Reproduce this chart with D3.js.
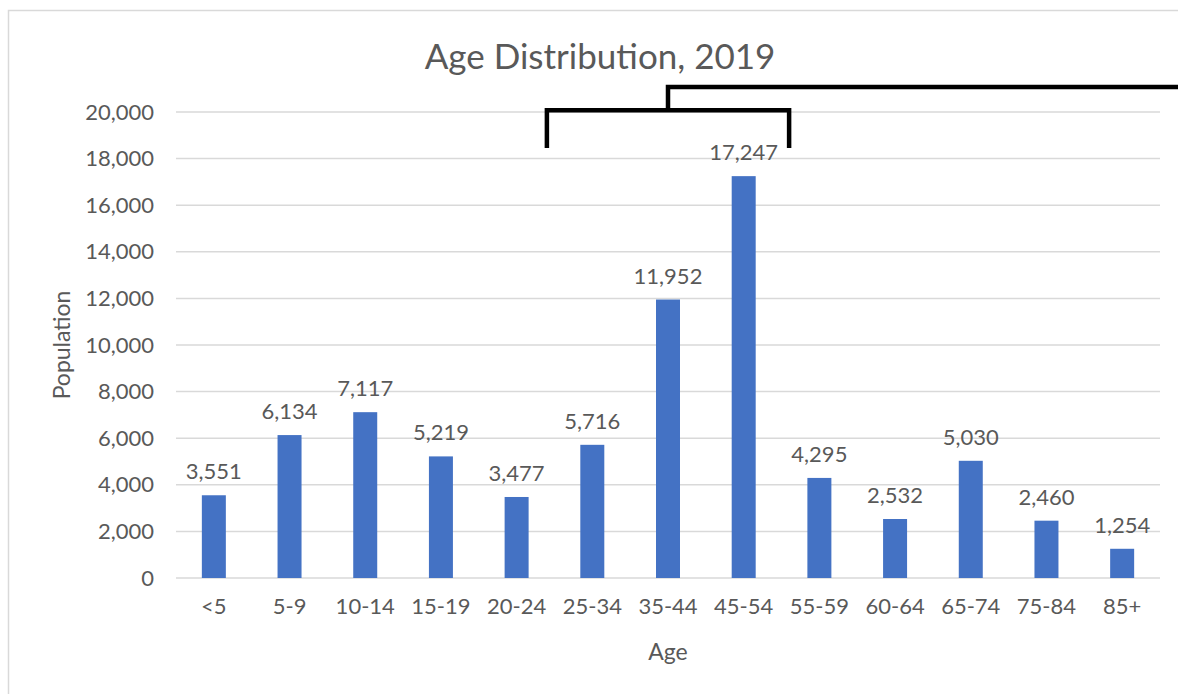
<!DOCTYPE html>
<html>
<head>
<meta charset="utf-8">
<script src="https://cdn.jsdelivr.net/npm/d3@7"></script>
<style>
  body { margin: 0; background: #fff; }
  svg text { font-family: Lato, "Open Sans", sans-serif; fill: #595959; }
</style>
</head>
<body>
<svg id="chart"></svg>
<script>
// chart data
const ageGroups = ["<5", "5-9", "10-14", "15-19", "20-24", "25-34", "35-44", "45-54", "55-59", "60-64", "65-74", "75-84", "85+"];
const population = [3551, 6134, 7117, 5219, 3477, 5716, 11952, 17247, 4295, 2532, 5030, 2460, 1254];
const yTicks = [0, 2000, 4000, 6000, 8000, 10000, 12000, 14000, 16000, 18000, 20000];

const W = 1178, H = 694;
const margin = {top: 112, right: 18, bottom: 116, left: 176};

const svg = d3.select("#chart").attr("width", W).attr("height", H);

// chart border
svg.append("rect")
  .attr("x", 8.5).attr("y", 10.5)
  .attr("width", W + 20).attr("height", H + 20)
  .attr("fill", "none")
  .attr("stroke", "#d9d9d9")
  .attr("stroke-width", 1.5);

const x = d3.scaleBand()
  .domain(ageGroups)
  .range([margin.left, W - margin.right])
  .paddingInner(0.683)
  .paddingOuter(0.3415);

const y = d3.scaleLinear()
  .domain([0, 20000])
  .range([H - margin.bottom, margin.top]);

const fmt = d3.format(",");

// gridlines
svg.append("g")
  .selectAll("line")
  .data(yTicks)
  .enter().append("line")
    .attr("x1", margin.left)
    .attr("x2", W - margin.right)
    .attr("y1", d => y(d))
    .attr("y2", d => y(d))
    .attr("stroke", "#d9d9d9")
    .attr("stroke-width", 1.5);

// y axis labels
const yAxis = svg.append("g")
  .attr("transform", `translate(${margin.left - 22},0)`)
  .call(d3.axisLeft(y).tickValues(yTicks).tickFormat(fmt).tickSize(0).tickPadding(0));
yAxis.select(".domain").remove();
yAxis.selectAll("text")
  .attr("font-size", "22px")
  .attr("fill", "#595959")
  .attr("font-family", "Lato, sans-serif");

// x axis labels
const xAxis = svg.append("g")
  .attr("transform", `translate(0,${H - margin.bottom})`)
  .call(d3.axisBottom(x).tickSize(0).tickPadding(20));
xAxis.select(".domain").remove();
xAxis.selectAll("text")
  .attr("font-size", "22px")
  .attr("fill", "#595959")
  .attr("font-family", "Lato, sans-serif");

// bars
svg.selectAll("rect.bar")
  .data(population)
  .enter().append("rect")
    .attr("class", "bar")
    .attr("x", (d, i) => x(ageGroups[i]))
    .attr("y", d => y(d))
    .attr("width", x.bandwidth())
    .attr("height", d => y(0) - y(d))
    .attr("fill", "#4472c4");

// value labels
svg.selectAll("text.val")
  .data(population)
  .enter().append("text")
    .attr("class", "val")
    .attr("x", (d, i) => x(ageGroups[i]) + x.bandwidth() / 2)
    .attr("y", d => y(d) - 16)
    .attr("text-anchor", "middle")
    .attr("font-size", "22px")
    .text(d => fmt(d));

// title
svg.append("text")
  .attr("x", 600)
  .attr("y", 69)
  .attr("text-anchor", "middle")
  .attr("font-size", "35px")
  .text("Age Distribution, 2019");

// axis titles
svg.append("text")
  .attr("x", x(ageGroups[6]) + x.bandwidth() / 2)
  .attr("y", 660)
  .attr("text-anchor", "middle")
  .attr("font-size", "23px")
  .text("Age");

svg.append("text")
  .attr("transform", `translate(70,${(y(0) + y(20000)) / 2}) rotate(-90)`)
  .attr("text-anchor", "middle")
  .attr("font-size", "23px")
  .text("Population");

// bracket annotation over the 25-34 .. 45-54 groups
const mid = x("35-44") + x.bandwidth() / 2;
const half = x.step() * 1.6;
const yLow = y(18450), yBar = y(20080), yTop = y(21070);
svg.append("path")
  .attr("d", `M${mid - half},${yLow} V${yBar} H${mid + half} V${yLow}`)
  .attr("fill", "none")
  .attr("stroke", "#000")
  .attr("stroke-width", 4.5);
svg.append("path")
  .attr("d", `M${mid},${yBar} V${yTop} H${W + 5}`)
  .attr("fill", "none")
  .attr("stroke", "#000")
  .attr("stroke-width", 4.5);
</script>
</body>
</html>
